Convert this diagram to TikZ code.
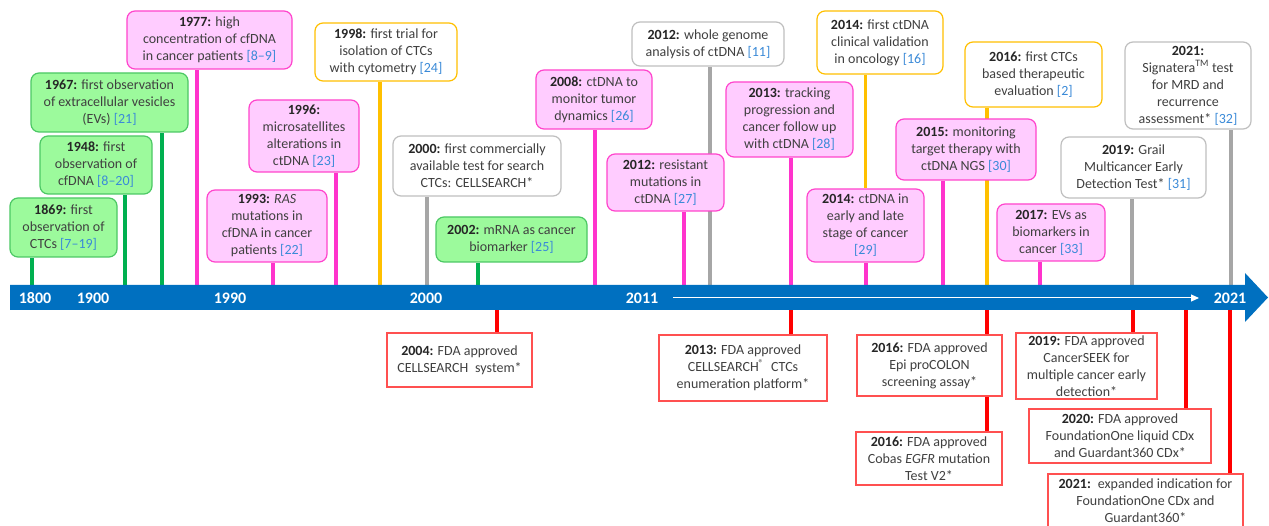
\documentclass[tikz,border=0pt]{standalone}
\usepackage{fontspec}
\setmainfont{Carlito}
\usetikzlibrary{arrows.meta}
\pgfdeclarelayer{paper}
\pgfdeclarelayer{bg}
\pgfsetlayers{paper,bg,main}
\definecolor{barblue}{HTML}{0070C0}
\definecolor{grnF}{HTML}{9CFA9C}
\definecolor{grnB}{HTML}{4CC864}
\definecolor{grnL}{HTML}{00B050}
\definecolor{pnkF}{HTML}{FFCCFF}
\definecolor{pnkB}{HTML}{FF44CC}
\definecolor{pnkL}{HTML}{FF33CC}
\definecolor{gldB}{HTML}{FFC000}
\definecolor{gryB}{HTML}{BFBFBF}
\definecolor{gryL}{HTML}{A6A6A6}
\definecolor{redB}{HTML}{FF5050}
\definecolor{redL}{HTML}{FF0000}
\definecolor{txt}{HTML}{404040}
\definecolor{yrc}{HTML}{262626}
\definecolor{refblue}{HTML}{3A8AD8}
\newcommand\yr[1]{{\bfseries\color{yrc}#1}}
\newcommand\rf[1]{\textcolor{refblue}{[#1]}}
\tikzset{
  base/.style={draw, line width=1.2pt, rounded corners=8pt, align=center, inner sep=0pt, text=txt, font=\fontsize{14}{17}\selectfont},
  grn/.style={base, draw=grnB, fill=grnF},
  pnk/.style={base, draw=pnkB, fill=pnkF},
  gld/.style={base, draw=gldB, fill=white},
  gry/.style={base, draw=gryB, fill=white},
  redbox/.style={base, rounded corners=0pt, draw=redB, fill=white},
  conn/.style={line width=3.5pt},
  rconn/.style={line width=4pt, draw=redL},
  barlabel/.style={text=white, font=\fontsize{16}{18}\selectfont\bfseries, inner sep=0pt}
}
\begin{document}
\begin{tikzpicture}[x=1pt,y=-1pt]
\useasboundingbox (0,0) rectangle (1269,526);
\begin{pgfonlayer}{paper}
\fill[white] (0,0) rectangle (1269,526);
\end{pgfonlayer}
\clip (0,0) rectangle (1269,526);
% timeline bar
\fill[barblue] (10,285) -- (1245,285) -- (1245,273) -- (1268,297.5) -- (1245,322) -- (1245,310) -- (10,310) -- cycle;
\node[barlabel] (l1800) at (35,298) {1800};
\node[barlabel] (l1900) at (93,298) {1900};
\node[barlabel] (l1990) at (230,298) {1990};
\node[barlabel] (l2000) at (426,298) {2000};
\node[barlabel] (l2011) at (642,298) {2011};
\node[barlabel] (l2021) at (1230,298) {2021};
\coordinate (wa) at (673,298);
\coordinate (wb) at (1199,298);
\draw[white, line width=1pt, -{Triangle[length=8pt,width=7pt]}] (wa) -- (wb);

% top boxes
\node[grn, minimum width=107pt, minimum height=59pt] (n1869) at (63.5,227.5) {\yr{1869:} first\\observation of\\CTCs \rf{7–19}};
\node[grn, minimum width=112pt, minimum height=58pt] (n1948) at (96,165) {\yr{1948:} first\\observation of\\cfDNA \rf{8–20}};
\node[grn, minimum width=157pt, minimum height=59pt] (n1967) at (109.5,102.5) {\yr{1967:} first observation\\of extracellular vesicles\\(EVs) \rf{21}};
\node[pnk, minimum width=165pt, minimum height=58pt] (n1977) at (209.5,40) {\yr{1977:} high\\concentration of cfDNA\\in cancer patients \rf{8–9}};
\node[pnk, minimum width=120pt, minimum height=72pt] (n1993) at (267,226) {\yr{1993:} \textit{RAS}\\mutations in\\cfDNA in cancer\\patients \rf{22}};
\node[pnk, minimum width=110pt, minimum height=72pt] (n1996) at (304,136) {\yr{1996:}\\microsatellites\\alterations in\\ctDNA \rf{23}};
\node[gld, minimum width=142pt, minimum height=58pt] (n1998) at (386,52) {\yr{1998:} first trial for\\isolation of CTCs\\with cytometry \rf{24}};
\node[gry, minimum width=168pt, minimum height=60pt] (n2000) at (477,166) {\yr{2000:} first commercially\\available test for search\\CTCs: CELLSEARCH*};
\node[grn, minimum width=151pt, minimum height=45pt] (n2002) at (511.5,239.5) {\yr{2002:} mRNA as cancer\\biomarker \rf{25}};
\node[pnk, minimum width=116pt, minimum height=59pt] (n2008) at (594,99.5) {\yr{2008:} ctDNA to\\monitor tumor\\dynamics \rf{26}};
\node[gry, minimum width=152pt, minimum height=44pt] (n2012a) at (708,44) {\yr{2012:} whole genome\\analysis of ctDNA \rf{11}};
\node[pnk, minimum width=117pt, minimum height=57pt] (n2012b) at (665.5,182.5) {\yr{2012:} resistant\\mutations in\\ctDNA \rf{27}};
\node[pnk, minimum width=127pt, minimum height=75pt] (n2013) at (789.5,119.5) {\yr{2013:} tracking\\progression and\\cancer follow up\\with ctDNA \rf{28}};
\node[gld, minimum width=126pt, minimum height=63pt] (n2014a) at (880,42.5) {\yr{2014:} first ctDNA\\clinical validation\\in oncology \rf{16}};
\node[pnk, minimum width=117pt, minimum height=73pt] (n2014b) at (865.5,225.5) {\yr{2014:} ctDNA in\\early and late\\stage of cancer\\\rf{29}};
\node[pnk, minimum width=140pt, minimum height=61pt] (n2015) at (966,149.5) {\yr{2015:} monitoring\\target therapy with\\ctDNA NGS \rf{30}};
\node[gld, minimum width=137pt, minimum height=65pt] (n2016a) at (1033.5,74.5) {\yr{2016:} first CTCs\\based therapeutic\\evaluation \rf{2}};
\node[pnk, minimum width=108pt, minimum height=57pt] (n2017) at (1051,232.5) {\yr{2017:} EVs as\\biomarkers in\\cancer \rf{33}};
\node[gry, minimum width=145pt, minimum height=61pt] (n2019a) at (1133.5,167.5) {\yr{2019:} Grail\\Multicancer Early\\Detection Test* \rf{31}};
\node[gry, minimum width=126pt, minimum height=87pt] (n2021a) at (1188,85.5) {\yr{2021:}\\Signatera\textsuperscript{TM} test\\for MRD and\\recurrence\\assessment* \rf{32}};

% bottom boxes
\node[redbox, minimum width=145pt, minimum height=54pt] (b2004) at (459.5,360) {\yr{2004:} FDA approved\\CELLSEARCH\enspace system*};
\node[redbox, minimum width=168pt, minimum height=66pt] (b2013) at (743,368) {\yr{2013:} FDA approved\\CELLSEARCH\textsuperscript{®}\enspace CTCs\\enumeration platform*};
\node[redbox, minimum width=145pt, minimum height=61pt] (b2016a) at (929.5,365.5) {\yr{2016:} FDA approved\\Epi proCOLON\\screening assay*};
\node[redbox, minimum width=146pt, minimum height=53pt] (b2016b) at (929,458.5) {\yr{2016:} FDA approved\\Cobas \textit{EGFR} mutation\\Test V2*};
\node[redbox, minimum width=141pt, minimum height=66pt] (b2019) at (1086.5,366) {\yr{2019:} FDA approved\\CancerSEEK for\\multiple cancer early\\detection*};
\node[redbox, minimum width=182pt, minimum height=54pt] (b2020) at (1120,436) {\yr{2020:} FDA approved\\FoundationOne liquid CDx\\and Guardant360 CDx*};
\node[redbox, minimum width=195pt, minimum height=54pt] (b2021) at (1145.5,501) {\yr{2021:}\enspace expanded indication for\\FoundationOne CDx and\\Guardant360*};

% connectors
\begin{pgfonlayer}{bg}
\foreach \x/\n/\c in {32/n1869/grnL, 125/n1948/grnL, 162/n1967/grnL, 197/n1977/pnkL,
  273/n1993/pnkL, 336/n1996/pnkL, 380/n1998/gldB, 427/n2000/gryL, 478/n2002/grnL,
  595/n2008/pnkL, 710/n2012a/gryL, 684/n2012b/pnkL, 791/n2013/pnkL, 866/n2014b/pnkL,
  943/n2015/pnkL, 987/n2016a/gldB, 1040/n2017/pnkL, 1132/n2019a/gryL, 1231/n2021a/gryL}{
  \coordinate (t\n) at (\x,285);
  \draw[conn, draw=\c] (t\n) -- (t\n |- \n.south);
}
\draw[conn, draw=gldB] (n2014b.north) -- (n2014b.north |- n2014a.south);
\foreach \x/\n in {497/b2004, 791/b2013, 987/b2016b, 1133/b2019, 1186/b2020, 1230/b2021}{
  \coordinate (d\n) at (\x,310);
  \draw[rconn] (d\n) -- (d\n |- \n.north);
}
\end{pgfonlayer}
\end{tikzpicture}
\end{document}
